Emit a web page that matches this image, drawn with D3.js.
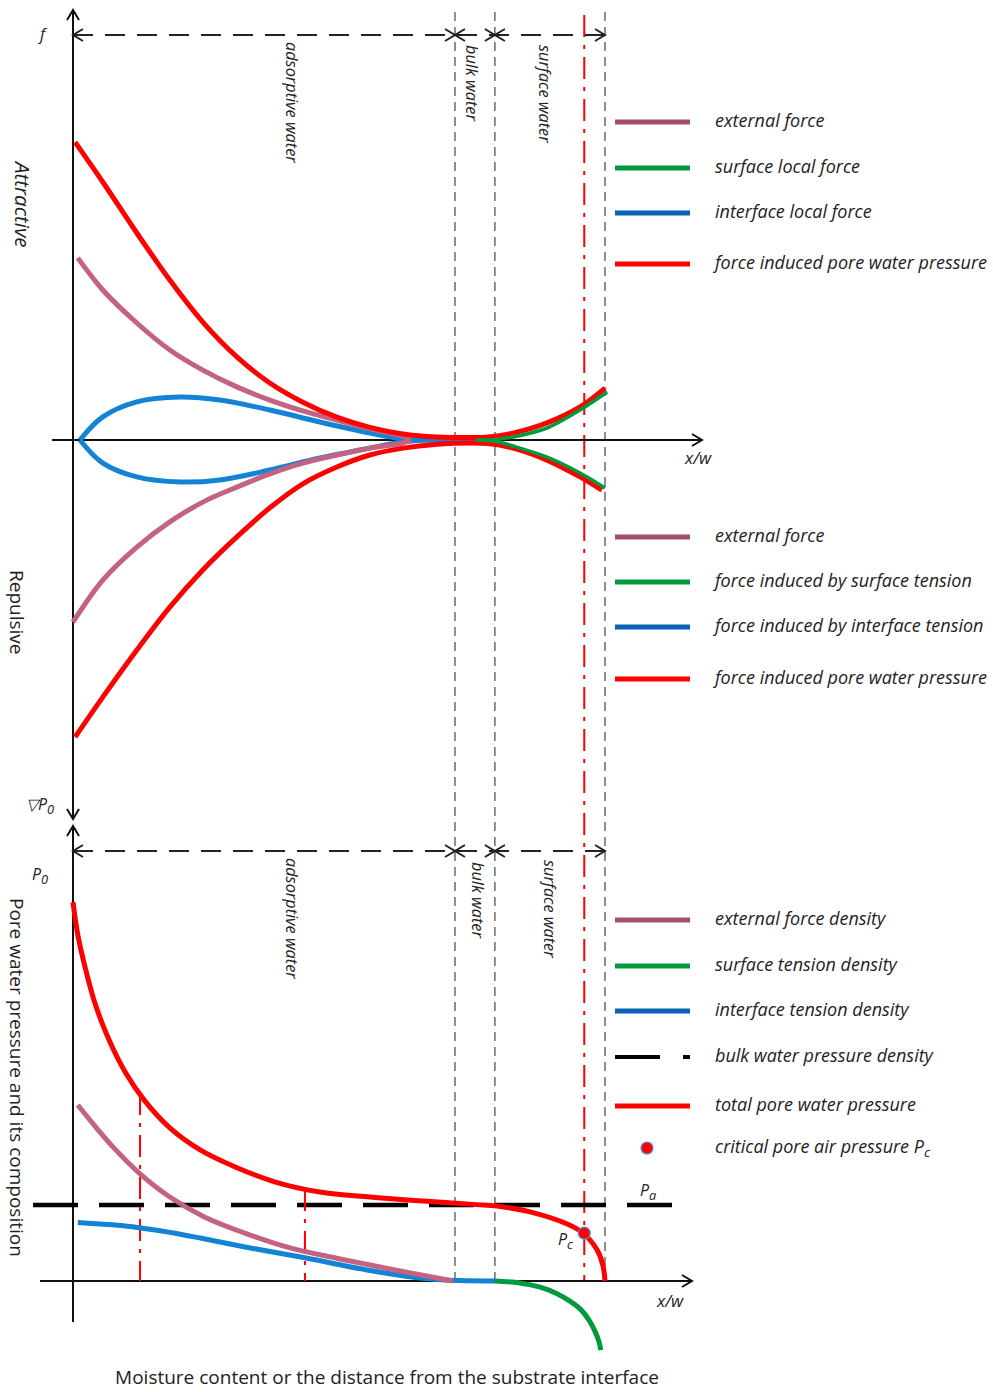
<!DOCTYPE html>
<html>
<head>
<meta charset="utf-8">
<script src="https://cdn.jsdelivr.net/npm/d3@7"></script>
<style>
  body { margin: 0; background: #fff; }
  text { font-family: "Open Sans", "Noto Sans", sans-serif; fill: #222; }
</style>
</head>
<body>
<div id="chart"></div>
<script>
// zone boundaries along x/w (0 = substrate, 100 = outer surface)
const boundaries = [0, 71.8, 79.3, 100];
const criticalX = 96.1;
const pressureAir = 20;
const criticalPoint = [96.1, 12.6];

// top panel: forces (attractive > 0, repulsive < 0)
const redUpper = [[0.4, 99.3], [5.6, 86], [12, 69], [18.2, 53.3], [24.4, 39.3], [30.8, 27.7], [37, 19], [43.2, 12.6], [49.6, 7.6], [55.8, 4.2], [62, 2], [68.4, 1], [74.6, 0.8], [78, 1], [82.7, 2.3], [89.1, 5.7], [95.3, 11], [100, 17.3]];
const redLower = [[0.4, -99], [5.6, -85.7], [12, -70], [18.2, -55.7], [24.4, -43.3], [30.8, -32.3], [37, -22.6], [43.2, -14.6], [49.6, -9], [55.8, -5], [62, -2.7], [68.4, -1.4], [74.6, -1], [78, -1.2], [82.7, -2.7], [89.1, -6.7], [95.3, -12.3], [99.4, -16.7]];
const pinkUpper = [[0.9, 60.7], [5.6, 50], [12, 39], [18.2, 30], [24.4, 23.3], [30.8, 17.7], [37, 13.3], [43.2, 9.7], [49.6, 6.6], [55.8, 3.7], [62, 1.3], [63.5, 0]];
const pinkLower = [[0, -60.7], [5.6, -46.7], [12, -35.7], [18.2, -27.3], [24.4, -20.7], [30.8, -15.7], [37, -11.3], [43.2, -7.7], [49.6, -5], [55.8, -2.7], [62, -1], [63.5, 0]];
const blueUpper = [[1.3, 0], [5.6, 7.7], [12, 12.7], [20.1, 14.3], [27.6, 13.3], [37, 10], [46.4, 6], [55.8, 2.3], [62, 0.3], [66, 0], [76, 0]];
const blueLower = [[1.3, 0], [5.6, -7.7], [12, -12.3], [20.1, -14], [27.6, -13.3], [37, -10], [46.4, -6], [55.8, -2.7], [62, -0.7], [66, 0], [76, 0]];
const greenUpper = [[75.9, 0], [79.3, 0.2], [82.7, 1], [89.1, 4], [95.3, 10], [100.4, 16]];
const greenLower = [[75.9, 0], [79.3, -0.4], [82.7, -2], [89.1, -5.7], [95.3, -11], [100, -16]];

// bottom panel: pore water pressure and its composition
const totalPressure = [[0, 99.7], [0.9, 91.1], [2.3, 82.4], [4.1, 73.2], [6.6, 64], [9.8, 55], [13.5, 47.4], [18.2, 40.3], [23.9, 34.5], [30.5, 30], [37.9, 26.1], [46.4, 23.4], [55.8, 22.1], [65.2, 21.1], [75.9, 20.1], [79.7, 19.7], [85.9, 18.2], [92.9, 15], [95.9, 12.6], [98.5, 8.2], [99.6, 4.2], [100, 0]];
const externalDensity = [[0.9, 46.3], [4.1, 40.8], [7.9, 34.7], [12.6, 28.2], [18.2, 22.1], [24.8, 16.8], [32.3, 12.6], [40.8, 8.7], [50.2, 5.8], [60.5, 2.9], [71.4, 0]];
const interfaceDensity = [[0.9, 15.4], [5.1, 15], [9.8, 14.5], [16.4, 13.2], [23.9, 11.3], [33.3, 8.7], [43.6, 6.1], [55.3, 2.9], [65.2, 0.8], [72.7, 0.1], [79.3, 0]];
const surfaceDensity = [[79.3, 0], [84, -0.5], [87.8, -1.6], [90.8, -3.2], [93.4, -5.3], [95.5, -7.6], [97, -10.3], [98.1, -13.2], [98.9, -16.1], [99.2, -18.2]];
const dropLines = [[12.6, 49.5], [43.6, 24.2]];

const topLegend = ["external force", "surface local force", "interface local force", "force induced pore water pressure"];
const midLegend = ["external force", "force induced by surface tension", "force induced by interface tension", "force induced pore water pressure"];
const botLegend = ["external force density", "surface tension density", "interface tension density", "bulk water pressure density", "total pore water pressure", "critical pore air pressure "];

const RED = "#ff0000", PINK = "#c46281", PINK_L = "#a34e6a", GREEN = "#009a3e", BLUE = "#1283d5", BLUE_L = "#0b5fb5";

const width = 993, height = 1392;
const svg = d3.select("#chart").append("svg").attr("width", width).attr("height", height);

const x = d3.scaleLinear().domain([0, 100]).range([73, 605]);
const yTop = d3.scaleLinear().domain([-100, 100]).range([740, 140]);
const yBot = d3.scaleLinear().domain([0, 100]).range([1281, 901]);

function chevron(tx, ty, dx, dy) {
  const s = 10, w = 6;
  const px = -dy, py = dx;
  return `M${tx - dx * s + px * w},${ty - dy * s + py * w}L${tx},${ty}L${tx - dx * s - px * w},${ty - dy * s - py * w}`;
}

function line(g, x1, y1, x2, y2, color, w, dash) {
  g.append("line").attr("x1", x1).attr("y1", y1).attr("x2", x2).attr("y2", y2)
    .attr("stroke", color).attr("stroke-width", w).attr("stroke-dasharray", dash || null);
}

const guides = svg.append("g");
// grey zone boundaries and red critical line
boundaries.slice(1).forEach((b) => line(guides, x(b), 12, x(b), yBot(0), "#737373", 1.6, "9,6"));
line(guides, x(criticalX), 15, x(criticalX), yBot(0), RED, 2, "22,8,4,8");

// axes
const axes = svg.append("g").attr("fill", "none");
line(axes, x(0), 10, x(0), 819, "#111", 2);
line(axes, x(0), 826, x(0), 1322, "#111", 2);
line(axes, 52, yTop(0), 702, yTop(0), "#111", 2);
line(axes, 40, yBot(0), 692, yBot(0), "#111", 2);
[[x(0), 10, 0, -1], [x(0), 819, 0, 1], [x(0), 826, 0, -1], [702, yTop(0), 1, 0], [692, yBot(0), 1, 0]].forEach((a) =>
  axes.append("path").attr("d", chevron(...a)).attr("stroke", "#111").attr("stroke-width", 2));

// zone span arrows
[35, 851].forEach((yy) => {
  line(axes, x(0), yy, x(100), yy, "#222", 2, "20,12");
  for (let i = 0; i < boundaries.length - 1; i++) {
    axes.append("path").attr("d", chevron(x(boundaries[i]), yy, -1, 0)).attr("stroke", "#222").attr("stroke-width", 2);
    axes.append("path").attr("d", chevron(x(boundaries[i + 1]), yy, 1, 0)).attr("stroke", "#222").attr("stroke-width", 2);
  }
});

// bulk water pressure line Pa
line(axes, 33, yBot(pressureAir), 683, yBot(pressureAir), "#000", 4.5, "45,21");

// curves
const smooth = d3.curveCatmullRom.alpha(0.5);
const curveTop = d3.line().x((d) => x(d[0])).y((d) => yTop(d[1])).curve(smooth);
const curveBot = d3.line().x((d) => x(d[0])).y((d) => yBot(d[1])).curve(smooth);
const marks = svg.append("g").attr("fill", "none");
[[blueUpper, BLUE, 5], [blueLower, BLUE, 5], [pinkUpper, PINK, 5], [pinkLower, PINK, 5],
 [redUpper, RED, 5], [redLower, RED, 5], [greenUpper, GREEN, 3.5], [greenLower, GREEN, 3.5]].forEach(([d, c, w]) =>
  marks.append("path").attr("d", curveTop(d)).attr("stroke", c).attr("stroke-width", w));

dropLines.forEach((d) => line(marks, x(d[0]), yBot(d[1]), x(d[0]), yBot(0), RED, 2, "22,8,4,8"));
[[interfaceDensity, BLUE], [externalDensity, PINK], [surfaceDensity, GREEN], [totalPressure, RED]].forEach(([d, c]) =>
  marks.append("path").attr("d", curveBot(d)).attr("stroke", c).attr("stroke-width", 5));
svg.append("circle").attr("cx", x(criticalPoint[0])).attr("cy", yBot(criticalPoint[1])).attr("r", 6)
  .attr("fill", RED).attr("stroke", "#4a90d9").attr("stroke-width", 1.2);

// labels
const labels = svg.append("g");
function sub(t, main, s) {
  t.append("tspan").text(main);
  t.append("tspan").attr("dy", 4).attr("font-size", "0.8em").text(s);
  return t;
}
function vtext(tx, ty, str, size, italic) {
  return labels.append("text").attr("transform", `translate(${tx},${ty}) rotate(90)`)
    .attr("font-size", size).attr("font-style", italic ? "italic" : null).text(str);
}
labels.append("text").attr("x", 40).attr("y", 40).attr("font-size", 16).attr("font-style", "italic").text("f");
sub(labels.append("text").attr("x", 26).attr("y", 810).attr("font-size", 16).attr("font-style", "italic"), "\u25BDP", "0");
sub(labels.append("text").attr("x", 32).attr("y", 880).attr("font-size", 16).attr("font-style", "italic"), "P", "0");
labels.append("text").attr("x", 685).attr("y", 464).attr("font-size", 17).attr("font-style", "italic").text("x/w");
labels.append("text").attr("x", 657).attr("y", 1307).attr("font-size", 17).attr("font-style", "italic").text("x/w");
sub(labels.append("text").attr("x", 640).attr("y", 1196).attr("font-size", 16).attr("font-style", "italic"), "P", "a");
sub(labels.append("text").attr("x", 558).attr("y", 1245).attr("font-size", 16).attr("font-style", "italic"), "P", "c");

vtext(15, 162, "Attractive", 20.5, true);
vtext(10, 570, "Repulsive", 19, false);
vtext(10, 898, "Pore water pressure and its composition", 19, false);
labels.append("text").attr("x", 387).attr("y", 1384).attr("text-anchor", "middle").attr("font-size", 19)
  .text("Moisture content or the distance from the substrate interface");

const zoneNames = ["adsorptive water", "bulk water", "surface water"];
const zoneTop = [[286, 42], [466, 45], [539, 45]];
const zoneBot = [[286, 858], [472, 862], [544, 860]];
zoneNames.forEach((n, i) => {
  vtext(zoneTop[i][0], zoneTop[i][1], n, 16.3, true);
  vtext(zoneBot[i][0], zoneBot[i][1], n, 16.3, true);
});

// legends
function legend(items, ys, colors) {
  items.forEach((t, i) => {
    const yy = ys[i];
    if (colors[i] === "dash") {
      line(labels, 615, yy, 660, yy, "#000", 4);
      line(labels, 683, yy, 690, yy, "#000", 4);
    } else if (colors[i] === "dot") {
      labels.append("circle").attr("cx", 647).attr("cy", yy).attr("r", 6).attr("fill", RED).attr("stroke", "#4a90d9").attr("stroke-width", 1.2);
    } else {
      line(labels, 615, yy, 690, yy, colors[i], 5);
    }
    const tx = labels.append("text").attr("x", 715).attr("y", yy + 5).attr("font-size", 18).attr("font-style", "italic").text(t);
    if (colors[i] === "dot") {
      tx.append("tspan").text("P");
      tx.append("tspan").attr("dy", 4).attr("font-size", "0.75em").text("c");
    }
  });
}
legend(topLegend, [122, 168, 213, 264], [PINK_L, GREEN, BLUE_L, RED]);
legend(midLegend, [537, 582, 627, 679], [PINK_L, GREEN, BLUE_L, RED]);
legend(botLegend, [920, 966, 1011, 1057, 1106, 1148], [PINK_L, GREEN, BLUE_L, "dash", RED, "dot"]);
</script>
</body>
</html>
